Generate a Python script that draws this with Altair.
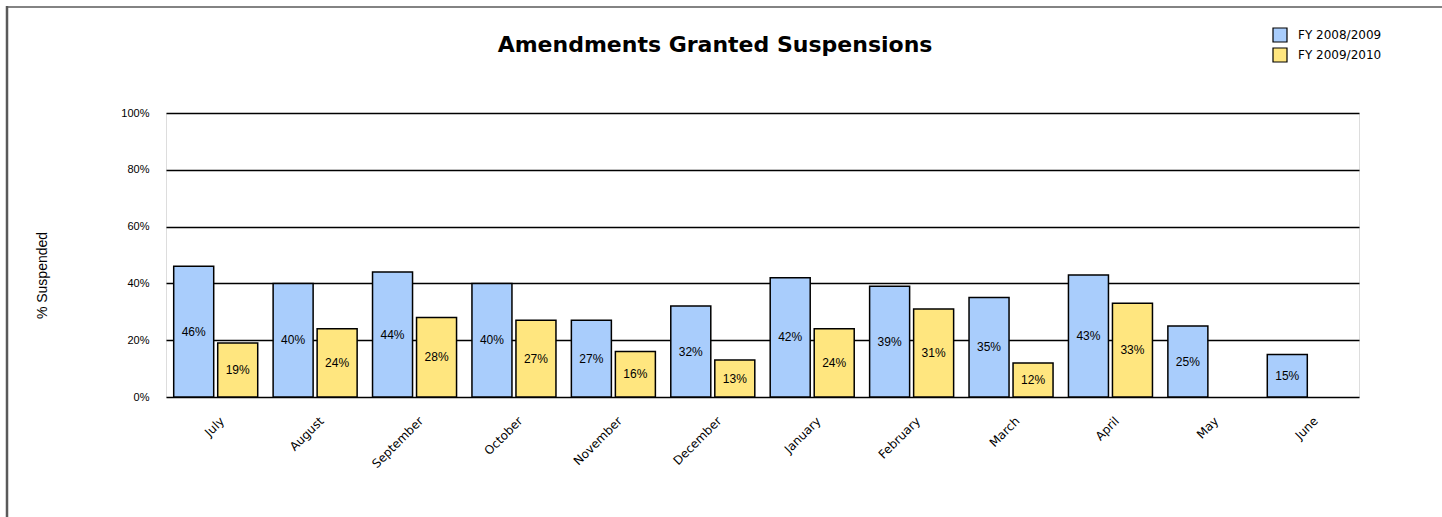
import altair as alt
import pandas as pd

months = ["July", "August", "September", "October", "November", "December",
          "January", "February", "March", "April", "May", "June"]
series = ["FY 2008/2009", "FY 2009/2010"]
fy0809 = [46, 40, 44, 40, 27, 32, 42, 39, 35, 43, 25, 15]
fy0910 = [19, 24, 28, 27, 16, 13, 24, 31, 12, 33, None, None]
colors = ["#A9CDFC", "#FFE67F"]
title_text = "Amendments Granted Suspensions"

rows = []
for m, a, b in zip(months, fy0809, fy0910):
    rows.append({"month": m, "series": series[0], "value": a})
    if b is not None:
        rows.append({"month": m, "series": series[1], "value": b})
df = pd.DataFrame(rows)
df["label"] = df["value"].astype(int).astype(str) + "%"
df["frac"] = df["value"] / 100.0
df["mid"] = df["frac"] / 2

W, H = 1193, 284
L, T = 166, 113

xenc = alt.X("month:N", sort=months, title=None,
             scale=alt.Scale(paddingInner=0, paddingOuter=0),
             axis=alt.Axis(labelAngle=-45, labelFontSize=12, labelFont="DejaVu Sans",
                           labelColor="black", ticks=False, domain=False,
                           labelPadding=18, labelOffset=3))
xoff = alt.XOffset("series:N", sort=series,
                   scale=alt.Scale(paddingInner=0.091, paddingOuter=0.175))

bars = alt.Chart(df).mark_bar(stroke="black", strokeWidth=1.5, strokeJoin="miter").encode(
    x=xenc,
    xOffset=xoff,
    y=alt.Y("frac:Q", title="% Suspended",
            scale=alt.Scale(domain=[0, 1], nice=False),
            axis=alt.Axis(format=".0%", values=[0, 0.2, 0.4, 0.6, 0.8, 1.0],
                          labelFontSize=11, labelFont="Liberation Sans", labelColor="black",
                          ticks=False, domain=False, labelPadding=17,
                          gridColor="black", gridWidth=1.5, gridOpacity=1,
                          titleFont="Liberation Sans", titleFontSize=14,
                          titleFontWeight="normal", titleColor="black",
                          titleAngle=-90, titleX=-124, titleY=162,
                          titleAlign="center", titleBaseline="middle")),
    color=alt.Color("series:N", sort=series,
                    scale=alt.Scale(domain=series, range=colors),
                    legend=alt.Legend(title=None, orient="none", legendX=1106, legendY=-86,
                                      symbolType="square", symbolSize=196,
                                      symbolStrokeColor="black", symbolStrokeWidth=1.2,
                                      labelFont="DejaVu Sans", labelFontSize=12,
                                      labelColor="black", rowPadding=0, labelOffset=10)),
)

labels = alt.Chart(df).mark_text(font="Liberation Sans", fontSize=12, color="black",
                                 baseline="middle", align="center").encode(
    x=alt.X("month:N", sort=months),
    xOffset=xoff,
    y=alt.Y("mid:Q"),
    text="label:N",
)

title = alt.Chart(pd.DataFrame({"t": [title_text]})).mark_text(
    font="DejaVu Sans", fontSize=22, fontWeight="bold", color="black",
    align="center", baseline="middle").encode(
    x=alt.value(715 - L), y=alt.value(45 - T), text="t:N")

frame_left = alt.Chart(pd.DataFrame({"a": [0]})).mark_rule(color="#5a5a5a", strokeWidth=2.5).encode(
    x=alt.value(7 - L), y=alt.value(6 - T), y2=alt.value(517 - T))
frame_top = alt.Chart(pd.DataFrame({"a": [0]})).mark_rule(color="#5a5a5a", strokeWidth=1.5).encode(
    x=alt.value(6 - L), x2=alt.value(1442 - L), y=alt.value(7 - T))

chart = alt.layer(bars, labels, title, frame_left, frame_top).properties(
    width=W, height=H,
    autosize=alt.AutoSizeParams(type="none"),
    padding={"left": L, "top": T, "right": 1442 - L - W, "bottom": 517 - T - H},
).configure_view(stroke="black", strokeWidth=2).configure(background="white")

chart.save("out.html", embed_options={"renderer": "svg", "actions": False})
